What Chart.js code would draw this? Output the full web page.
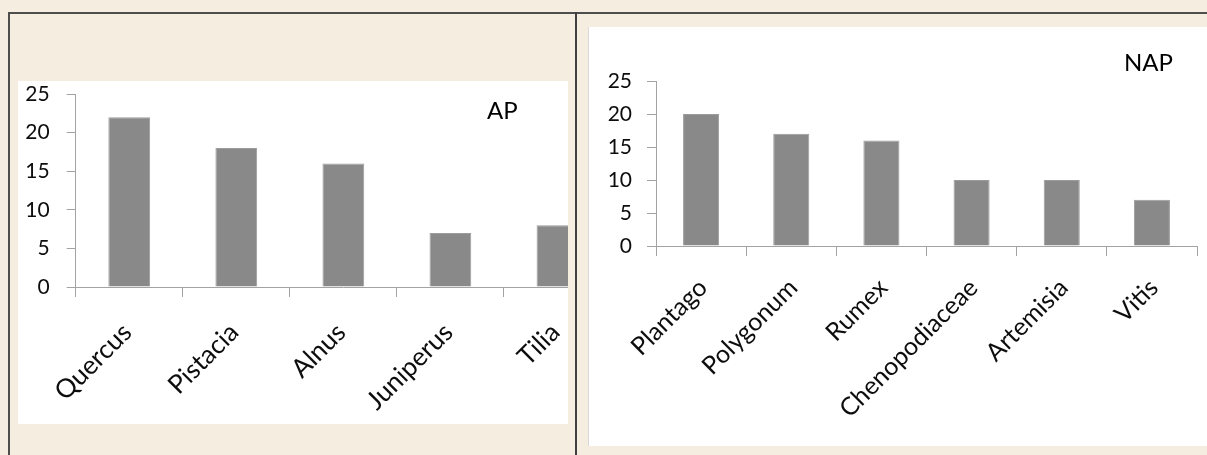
<!DOCTYPE html>
<html>
<head>
<meta charset="utf-8">
<script src="https://cdn.jsdelivr.net/npm/chart.js@4.4.1/dist/chart.umd.min.js"></script>
<style>
  html, body { margin: 0; padding: 0; }
  body { width: 1207px; height: 455px; background: #f4ede0; position: relative; overflow: hidden; font-family: Lato, "Open Sans", sans-serif; }
  .frame { position: absolute; left: 8px; top: 12px; width: 1300px; height: 500px; border-top: 2px solid #4d4d4d; border-left: 2px solid #4d4d4d; }
  .divider { position: absolute; left: 575px; top: 12px; width: 2px; height: 460px; background: #3f3f3f; }
  .panel { position: absolute; background: #ffffff; overflow: hidden; }
  #leftPanel { left: 18px; top: 81px; width: 550px; height: 343px; }
  #rightPanel { left: 588px; top: 27px; width: 619px; height: 419px; border-left: 1px solid #d9d9d9; box-sizing: border-box; }
  canvas { position: absolute; }
  #apChart { left: 0; top: -20px; }
  #napChart { left: -1px; top: 0; }
  .tag { position: absolute; font-family: Lato, sans-serif; font-size: 24px; line-height: 24px; color: #000; white-space: nowrap; }
</style>
</head>
<body>
<div class="frame"></div>
<div class="divider"></div>
<div class="panel" id="leftPanel"><canvas id="apChart" width="600" height="363"></canvas></div>
<div class="panel" id="rightPanel"><canvas id="napChart" width="619" height="419"></canvas></div>
<div class="tag" style="left:487px; top:98px;">AP</div>
<div class="tag" style="left:1124px; top:50px;">NAP</div>
<script>
// Arboreal pollen (AP)
const apTaxa = ['Quercus', 'Pistacia', 'Alnus', 'Juniperus', 'Tilia'];
const apValues = [22, 18, 16, 7, 8];

// Non-arboreal pollen (NAP)
const napTaxa = ['Plantago', 'Polygonum', 'Rumex', 'Chenopodiaceae', 'Artemisia', 'Vitis'];
const napValues = [20, 17, 16, 10, 10, 7];

// Shared value axis
const yMin = 0;
const yMax = 25;
const yStep = 5;

const axisGrey = '#a3a3a3';
const barGrey = '#898989';
const textColor = '#0d0d0d';

function makeChart(id, labels, values, o) {
  return new Chart(document.getElementById(id), {
    type: 'bar',
    data: {
      labels: labels,
      datasets: [{
        data: values,
        backgroundColor: barGrey,
        borderColor: '#9c9c9c',
        borderWidth: 1,
        categoryPercentage: 1,
        barPercentage: o.barPct
      }]
    },
    options: {
      responsive: false,
      animation: false,
      events: [],
      layout: { padding: { left: 0, right: o.padRight, top: o.padTop, bottom: 0 } },
      plugins: { legend: { display: false }, tooltip: { enabled: false }, title: { display: false } },
      scales: {
        x: {
          offset: true,
          grid: { offset: true, drawOnChartArea: false, drawTicks: true, tickLength: 10, color: axisGrey, lineWidth: 1 },
          border: { display: true, color: axisGrey, width: 1 },
          ticks: {
            autoSkip: false,
            minRotation: 45,
            maxRotation: 45,
            padding: o.xPad,
            labelOffset: o.xShift,
            color: textColor,
            font: { family: 'Lato', size: o.xFont }
          },
          afterFit: (s) => { s.height = o.xHeight; }
        },
        y: {
          min: yMin,
          max: yMax,
          grid: { drawOnChartArea: false, drawTicks: true, tickLength: 9, color: axisGrey, lineWidth: 1 },
          border: { display: true, color: axisGrey, width: 1 },
          ticks: {
            stepSize: yStep,
            padding: o.yPad,
            color: textColor,
            font: { family: 'Lato', size: o.yFont }
          },
          afterFit: (s) => { s.width = o.yWidth; }
        }
      }
    }
  });
}

makeChart('apChart', apTaxa, apValues, {
  barPct: 0.39, padRight: 7, padTop: 33, xHeight: 137, yWidth: 57.7,
  xPad: 20, xShift: -2, xFont: 26, yPad: 17, yFont: 21
});

makeChart('napChart', napTaxa, napValues, {
  barPct: 0.40, padRight: 10, padTop: 54, xHeight: 200, yWidth: 68,
  xPad: 17, xShift: 2, xFont: 25, yPad: 15, yFont: 21
});
</script>
</body>
</html>
